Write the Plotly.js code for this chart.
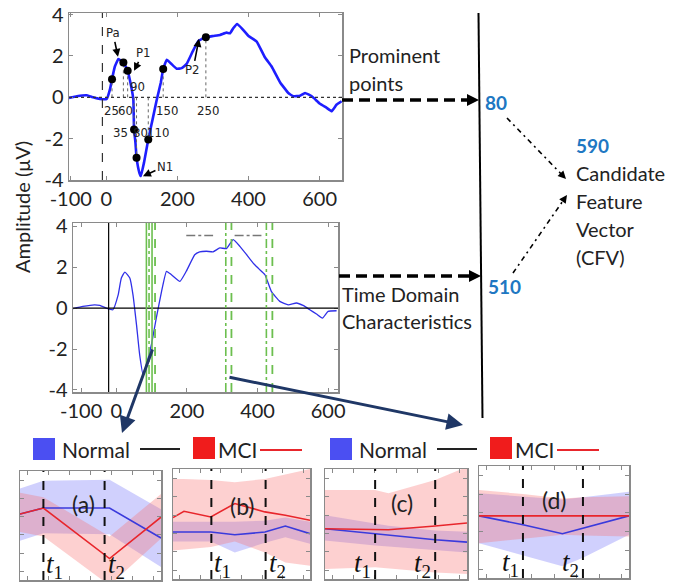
<!DOCTYPE html>
<html><head><meta charset="utf-8">
<script src="https://cdn.plot.ly/plotly-3.0.1.min.js"></script>
<style>html,body{margin:0;padding:0;background:#fff}</style>
</head><body><div id="chart" style="width:684px;height:582px"></div>
<script>
// ---------- data ----------
const topTime = [-105,-83,-55,-37,-18,1,10,16,24,34,48,60,68,76,78,82,85,93,97,106,118,130,142,153,160,170,181,198,212,226,243,259,280,301,320,338,348,357,368,381,400,423,446,465,489,512,526,545,559,578,601,620,634,648,662];
const topAmp  = [-0.03,0.05,0.10,0,-0.08,-0.08,0.37,0.88,1.49,1.85,1.69,1.29,0.69,-0.11,-1.56,-2.2,-2.92,-3.65,-3.81,-3.16,-2.04,-1.08,-0.11,0.69,1.37,1.82,1.65,1.38,1.41,1.62,2.22,2.73,2.91,2.97,3.02,3.13,3.10,3.34,3.55,3.34,2.97,2.70,1.94,1.49,0.72,0.21,0.05,0.08,0.21,0.05,-0.31,-0.51,-0.67,-0.35,-0.19];
const dotTime = [16,48,60,78,85,118,160,280];
const dotAmp  = [0.88,1.69,1.29,-1.56,-2.92,-2.04,1.37,2.91];
const stimulusTop = -11;

const botTime = [-123,-95,-62,-47,-29,-10,5,14,24,38,47,57,66,76,85,99,113,128,142,156,180,198,222,236,255,274,293,312,331,350,369,387,406,421,439,463,487,510,529,548,567,584,600,624];
const botAmp  = [-0.03,0.08,0.16,0.13,0,-0.08,0.65,1.47,1.76,1.47,0.65,-0.82,-2.29,-3.27,-2.78,-1.80,-0.49,0.82,1.80,1.63,1.31,1.80,2.61,2.75,2.78,2.75,2.94,2.91,3.35,3.02,2.61,2.21,1.88,1.63,0.82,0.33,0.16,0.25,0.13,-0.08,-0.29,-0.49,-0.16,-0.13];
const stimulusBot = -22;
const greenSolid   = [85,101];
const greenDashDot = [92.5,310,425];
const greenDashed  = [109.5,326,442];
const windowStart = [198,335];
const windowEnd   = [274,411];
const windowLevel = 3.55;

const xTickVals = [-100,0,200,400,600];
const xTickText = ['-100','0','200','400','600'];
const yTickVals = [-4,-2,0,2,4];
const yTickText = ['-4','-2','0','2','4'];

// small panels (arbitrary units 0-10)
const aX = [0,1.66,6.35,10];
const aNormal = [6.06,6.6,6.6,3.85], aNormalHi = [8.4,9.1,9.2,6.5], aNormalLo = [3.6,4.3,4.2,1.2];
const aMCI = [6.06,6.6,1.97,5.76],   aMCIHi = [8.0,7.6,4.0,7.9],     aMCILo = [4.4,4.0,-0.5,3.8];
const aT = [1.66,6.0];

const bX = [0,0.8,2.76,4.51,6.71,8.2,10];
const bNormal = [4.27,4.27,4.27,4.02,4.27,4.82,4.12], bNormalHi = [5.2,5.2,5.2,5.2,5.3,5.6,5.2], bNormalLo = [3.4,3.4,3.4,2.4,3.3,3.8,3.2];
const bMCI = [5.58,6.16,5.64,6.86,6.1,5.79,5.34], bMCIHi = [9.1,9.1,9.0,8.8,9.1,9.5,10], bMCILo = [2.6,2.7,2.9,3.4,2.4,1.5,1.2];
const bT = [2.8,6.76];

const cX = [0,3.53,4.47,7.76,10];
const cNormal = [4.57,4.09,3.97,3.57,3.35], cNormalHi = [5.8,5.0,4.85,4.4,4.3], cNormalLo = [3.5,3.05,2.95,2.6,2.4];
const cMCI = [4.57,4.51,4.48,4.82,5.09],  cMCIHi = [8.1,8.1,7.8,9.0,10.2],   cMCILo = [0.9,1.07,1.0,0.6,0.45];
const cT = [3.53,7.76];

const dX = [0,2.93,5.56,6.93,10];
const dNormal = [5.55,4.75,3.95,4.45,5.55], dNormalHi = [7.57,7.3,7.0,7.2,7.7], dNormalLo = [3.1,2.0,1.04,1.8,3.86];
const dMCI = [5.55,5.55,5.55,5.55,5.55],  dMCIHi = [7.86,7.5,7.1,7.2,7.3],   dMCILo = [3.1,3.5,3.86,3.8,3.7];
const dT = [2.93,6.93];

// ---------- layout helpers ----------
const W=684,H=582;
const px = x => x/W, py = y => 1-y/H;
const FONT = 'Lato, Carlito, "Open Sans", sans-serif';
const NARROW = '"Liberation Sans Narrow", "DejaVu Sans Condensed", "Roboto", sans-serif';
const BLUE = '#3a3adc', RED = '#e8262c';
const BLUEFILL = 'rgba(100,100,248,0.30)', REDFILL = 'rgba(250,110,110,0.32)';

const traces = [];
const shapes = [];
const annotations = [];

// top waveform
traces.push({x:topTime,y:topAmp,xaxis:'x',yaxis:'y',mode:'lines',line:{color:'#1e1eff',width:2.6,shape:'spline',smoothing:0.3},hoverinfo:'skip'});
const dropX=[],dropY=[];
dotTime.forEach((t,i)=>{dropX.push(t,t,null);dropY.push(0,dotAmp[i],null);});
traces.push({x:dropX,y:dropY,xaxis:'x',yaxis:'y',mode:'lines',line:{color:'#666',width:1,dash:'dot'},hoverinfo:'skip'});
traces.push({x:dotTime,y:dotAmp,xaxis:'x',yaxis:'y',mode:'markers',marker:{color:'#000',size:8},hoverinfo:'skip'});
shapes.push({type:'line',xref:'x',yref:'y',x0:-105,x1:663,y0:0,y1:0,line:{color:'#333',width:1.2,dash:'dot'}});
shapes.push({type:'line',xref:'x',yref:'y domain',x0:stimulusTop,x1:stimulusTop,y0:0,y1:1,line:{color:'#333',width:1.2,dash:'dash'}});

// bottom waveform
shapes.push({type:'line',xref:'x2',yref:'y2',x0:-123,x1:628,y0:0,y1:0,line:{color:'#000',width:1.2}});
shapes.push({type:'line',xref:'x2',yref:'y2 domain',x0:stimulusBot,x1:stimulusBot,y0:0,y1:1,line:{color:'#000',width:1.2}});
const GREEN='#6cbf4f';
greenSolid.forEach(t=>shapes.push({type:'line',xref:'x2',yref:'y2 domain',x0:t,x1:t,y0:0,y1:1,line:{color:GREEN,width:1.6}}));
greenDashDot.forEach(t=>shapes.push({type:'line',xref:'x2',yref:'y2 domain',x0:t,x1:t,y0:0,y1:1,line:{color:GREEN,width:1.6,dash:'dashdot'}}));
greenDashed.forEach(t=>shapes.push({type:'line',xref:'x2',yref:'y2 domain',x0:t,x1:t,y0:0,y1:1,line:{color:GREEN,width:1.8,dash:'dash'}}));
windowStart.forEach((s,i)=>shapes.push({type:'line',xref:'x2',yref:'y2',x0:s,x1:windowEnd[i],y0:windowLevel,y1:windowLevel,line:{color:'#777',width:1.3,dash:'dashdot'}}));
traces.push({x:botTime,y:botAmp,xaxis:'x2',yaxis:'y2',mode:'lines',line:{color:'#3030e8',width:1.3,shape:'spline',smoothing:0.4},hoverinfo:'skip'});

// small panels
const panels = [
 {ax:'3',X:aX,N:aNormal,NH:aNormalHi,NL:aNormalLo,M:aMCI,MH:aMCIHi,ML:aMCILo,T:aT,label:'(a)',lx:0.45,ly:0.84,tside:'right'},
 {ax:'4',X:bX,N:bNormal,NH:bNormalHi,NL:bNormalLo,M:bMCI,MH:bMCIHi,ML:bMCILo,T:bT,label:'(b)',lx:0.51,ly:0.81,tside:'right'},
 {ax:'5',X:cX,N:cNormal,NH:cNormalHi,NL:cNormalLo,M:cMCI,MH:cMCIHi,ML:cMCILo,T:cT,label:'(c)',lx:0.54,ly:0.84,tside:'left'},
 {ax:'6',X:dX,N:dNormal,NH:dNormalHi,NL:dNormalLo,M:dMCI,MH:dMCIHi,ML:dMCILo,T:dT,label:'(d)',lx:0.5,ly:0.84,tside:'left'}
];
panels.forEach(p=>{
  const xa='x'+p.ax, ya='y'+p.ax;
  const band=(hi,lo,col)=>({x:p.X.concat(p.X.slice().reverse()),y:hi.concat(lo.slice().reverse()),xaxis:xa,yaxis:ya,mode:'lines',fill:'toself',fillcolor:col,line:{width:0},hoverinfo:'skip'});
  traces.push(band(p.NH,p.NL,BLUEFILL));
  traces.push(band(p.MH,p.ML,REDFILL));
  traces.push({x:p.X,y:p.N,xaxis:xa,yaxis:ya,mode:'lines',line:{color:BLUE,width:1.6},hoverinfo:'skip'});
  traces.push({x:p.X,y:p.M,xaxis:xa,yaxis:ya,mode:'lines',line:{color:RED,width:1.6},hoverinfo:'skip'});
  p.T.forEach((t,i)=>{
    shapes.push({type:'line',xref:xa,yref:ya+' domain',x0:t,x1:t,y0:0,y1:1,line:{color:'#111',width:2,dash:'dash'}});
    annotations.push({xref:xa,yref:ya+' domain',x:t,y:0,xanchor:p.tside==='right'?'left':'right',yanchor:'bottom',xshift:p.tside==='right'?1:-2,yshift:-5,
      text:'<i>t</i><sub>'+(i+1)+'</sub>',showarrow:false,font:{family:'"Liberation Serif", "DejaVu Serif", serif',size:27,color:'#111'}});
  });
  annotations.push({xref:xa+' domain',yref:ya+' domain',x:p.lx,y:p.ly,text:p.label,showarrow:false,font:{family:FONT,size:23,color:'#222'}});
});

// prominent-point labels (plot 1)
const lblFont = {family:NARROW,size:13,color:'#222'};
[['25',14,-0.62],['60',54,-0.62],['90',89,0.51],['150',170.7,-0.62],['250',286,-0.62],['35',40,-1.72],['80',95,-1.72],['110',145,-1.72]]
 .forEach(l=>annotations.push({xref:'x',yref:'y',x:l[1],y:l[2],text:l[0],showarrow:false,font:lblFont}));
[['Pa',32.8,1.96,-5,-24],['P1',78,1.28,9,-18],['N1',103,-3.82,22,-10],['P2',260.7,2.83,-6,31]]
 .forEach(l=>annotations.push({xref:'x',yref:'y',x:l[1],y:l[2],ax:l[3],ay:l[4],text:l[0],showarrow:true,arrowhead:2,arrowsize:1,arrowwidth:1.6,arrowcolor:'#000',font:lblFont}));

// y title
annotations.push({xref:'paper',yref:'paper',x:px(22),y:py(207),xanchor:'center',yanchor:'middle',text:'Amplitude (μV)',textangle:-90,showarrow:false,font:{family:FONT,size:20,color:'#222'}});

// right-hand text
const txt=(x,y,t,opt)=>annotations.push(Object.assign({xref:'paper',yref:'paper',x:px(x),y:py(y),xanchor:'left',yanchor:'middle',text:t,showarrow:false,font:{family:FONT,size:20,color:'#222'}},opt||{}));
txt(347,55,'Prominent'); txt(347,83,'points');
txt(340,294,'Time Domain'); txt(340,321,'Characteristics');
txt(574,173,'Candidate'); txt(574,201,'Feature'); txt(574,229,'Vector'); txt(574,257,'(CFV)');
const blueNum={family:FONT,size:19,color:'#2077c2',weight:'bold'};
txt(483,102,'<b>80</b>',{font:blueNum});
txt(486,286,'<b>510</b>',{font:blueNum});
txt(574,145,'<b>590</b>',{font:blueNum});

// vertical divider
shapes.push({type:'line',xref:'paper',yref:'paper',x0:px(478.5),y0:py(13),x1:px(482.5),y1:py(418),line:{color:'#000',width:2}});

// arrows
function arrow(fx,fy,tx,ty,w,dash,hl,hw){
  const dx=tx-fx,dy=ty-fy,d=Math.hypot(dx,dy),ux=dx/d,uy=dy/d;
  const bx=tx-ux*hl,by=ty-uy*hl;
  shapes.push({type:'line',xref:'paper',yref:'paper',x0:px(fx),y0:py(fy),x1:px(bx+ux*1),y1:py(by+uy*1),line:{color:'#000',width:w,dash:dash}});
  const p1=[bx-uy*hw,by+ux*hw],p2=[bx+uy*hw,by-ux*hw];
  shapes.push({type:'path',xref:'paper',yref:'paper',path:`M ${px(tx)} ${py(ty)} L ${px(p1[0])} ${py(p1[1])} L ${px(p2[0])} ${py(p2[1])} Z`,fillcolor:'#000',line:{width:0}});
}
arrow(342,100,479,100,3.5,'11px,6px',12,6);
arrow(339,276,481,276,3.5,'11px,6px',12,6);
arrow(507,118,566,179,1.6,'5px,4px,2px,4px',8,4);
arrow(513,273,567,195,1.6,'5px,4px,2px,4px',8,4);

// navy arrows
annotations.push({xref:'paper',yref:'paper',x:px(122),y:py(433),ax:31,ay:-85,text:'',showarrow:true,arrowhead:2,arrowsize:1.1,arrowwidth:3,arrowcolor:'#1f3766'});
annotations.push({xref:'paper',yref:'paper',x:px(463),y:py(425),ax:-235,ay:-48,text:'',showarrow:true,arrowhead:2,arrowsize:1.1,arrowwidth:3,arrowcolor:'#1f3766'});

// legends
function legend(x0){
  const o=x0-33;
  shapes.push({type:'rect',xref:'paper',yref:'paper',x0:px(o+33),x1:px(o+55),y0:py(460),y1:py(438),fillcolor:'#4b4ff2',line:{width:0}});
  txt(o+60,449,'Normal',{font:{family:FONT,size:21,color:'#222'}});
  shapes.push({type:'line',xref:'paper',yref:'paper',x0:px(o+140),x1:px(o+180),y0:py(449),y1:py(449),line:{color:'#222',width:2}});
  shapes.push({type:'rect',xref:'paper',yref:'paper',x0:px(o+193),x1:px(o+215),y0:py(459),y1:py(437),fillcolor:'#f01c1c',line:{width:0}});
  txt(o+216,449,'MCI',{font:{family:FONT,size:21,color:'#222'}});
  shapes.push({type:'line',xref:'paper',yref:'paper',x0:px(o+260),x1:px(o+302),y0:py(450),y1:py(450),line:{color:'#e8262c',width:2}});
}
legend(33); legend(330);

// ---------- axes ----------
const tf={family:FONT,size:20,color:'#222'};
function boxAx(extra){return Object.assign({showline:true,mirror:'ticks',linecolor:'#8a8a8a',linewidth:1.5,ticks:'inside',ticklen:4,tickcolor:'#8a8a8a',showgrid:false,zeroline:false,fixedrange:true},extra);}
const layout={
  width:W,height:H,autosize:false,margin:{l:0,r:0,t:0,b:0},paper_bgcolor:'#fff',plot_bgcolor:'#fff',showlegend:false,
  xaxis: boxAx({anchor:'y',domain:[px(69),px(342)],range:[-105,663],tickvals:xTickVals,ticktext:xTickText,tickfont:tf}),
  yaxis: boxAx({anchor:'x',domain:[py(180),py(13)],range:[-4,4.08],tickvals:yTickVals,ticktext:yTickText,tickfont:tf}),
  xaxis2: boxAx({anchor:'y2',domain:[px(73),px(338)],range:[-123,628],tickvals:xTickVals,ticktext:xTickText,tickfont:tf}),
  yaxis2: boxAx({anchor:'x2',domain:[py(392),py(223)],range:[-4.1,4.16],tickvals:yTickVals,ticktext:yTickText,tickfont:tf}),
  shapes:shapes,annotations:annotations
};
const pdom=[[20,161,471,580],[173,310,469,579],[325,467,469,579],[479,629,466,578]];
pdom.forEach((d,i)=>{
  const n=i+3;
  layout['xaxis'+n]=boxAx({anchor:'y'+n,domain:[px(d[0]),px(d[1])],range:[0,10],dtick:1.5,tick0:0.5,showticklabels:false,ticklen:4});
  layout['yaxis'+n]=boxAx({anchor:'x'+n,domain:[py(d[3]),py(d[2])],range:[0,10],dtick:1.67,tick0:0.8,showticklabels:false,ticklen:4});
});
Plotly.newPlot('chart',traces,layout,{staticPlot:true});
</script></body></html>
